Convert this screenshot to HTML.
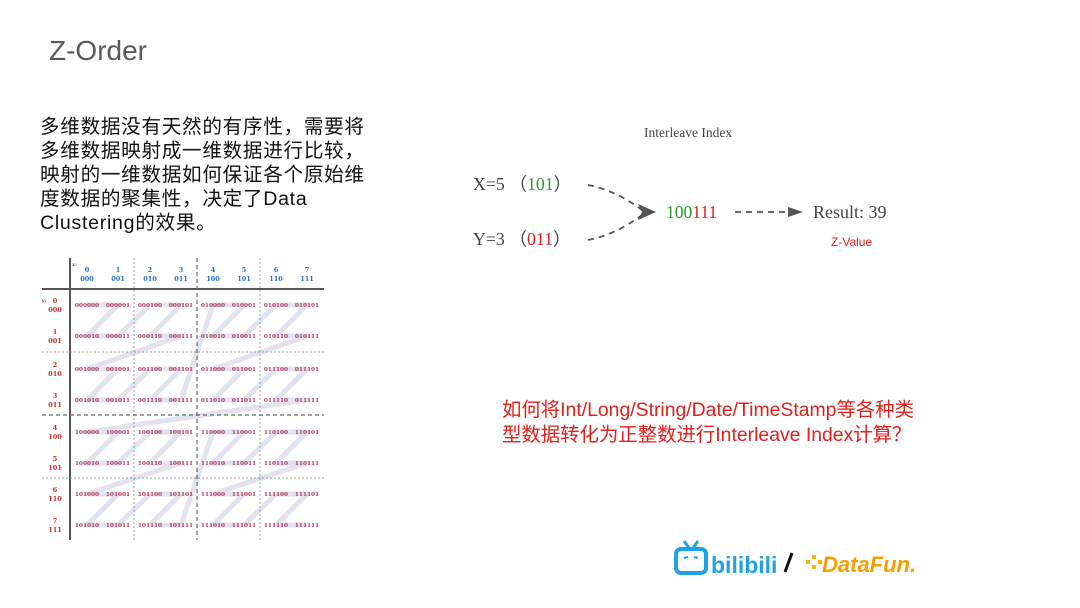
<!DOCTYPE html>
<html><head><meta charset="utf-8"><style>
body{margin:0;width:1080px;height:608px;background:#fff;position:relative;overflow:hidden;font-family:"Liberation Sans","Noto Sans CJK SC",sans-serif}
.a{position:absolute;white-space:nowrap}
</style></head><body>
<div class="a" style="left:49px;top:35px;font-size:28px;color:#595959">Z-Order</div>
<div class="a" style="left:40px;top:115px;font-size:19.6px;line-height:24px;color:#111;letter-spacing:0.7px">多维数据没有天然的有序性，需要将<br>多维数据映射成一维数据进行比较，<br>映射的一维数据如何保证各个原始维<br>度数据的聚集性，决定了Data<br>Clustering的效果。</div>
<div class="a" style="left:502px;top:398px;font-size:19.4px;line-height:25px;color:#e0201c">如何将Int/Long/String/Date/TimeStamp等各种类<br>型数据转化为正整数进行Interleave Index计算？</div>

<svg class="a" style="left:0;top:0" width="1080" height="608">
<g font-family="Liberation Serif,serif">
<text x="644" y="137" font-size="13.5" fill="#444">Interleave Index</text>
<text x="473" y="190" font-size="17.8" fill="#444">X=5 （<tspan fill="#2a9a2a">101</tspan>）</text>
<text x="473" y="245" font-size="17.8" fill="#444">Y=3 （<tspan fill="#e02020">011</tspan>）</text>
<text x="666" y="218" font-size="17.5" fill="#2a9a2a">100<tspan fill="#e02020">111</tspan></text>
<text x="813" y="218" font-size="18" fill="#444">Result: 39</text>
</g>
<text x="831" y="246" font-size="12" fill="#e02020">Z-Value</text>
<g stroke="#555" stroke-width="1.8" fill="none" stroke-dasharray="6,5">
<path d="M588 185 Q615 190 642 210"/>
<path d="M588 240 Q615 235 642 215"/>
<path d="M735 212 L790 212"/>
</g>
<path d="M638 204 L656 212 L638 220 L642 212Z" fill="#555"/>
<path d="M788 207 L803 212 L788 217Z" fill="#555"/>

<polyline fill="none" stroke="#e2e2f0" stroke-width="5" stroke-linejoin="round" points="87,305 118,305 87,336 118,336 150,305 181,305 150,336 181,336 87,369 118,369 87,400 118,400 150,369 181,369 150,400 181,400 213,305 244,305 213,336 244,336 276,305 307,305 276,336 307,336 213,369 244,369 213,400 244,400 276,369 307,369 276,400 307,400 87,432 118,432 87,463 118,463 150,432 181,432 150,463 181,463 87,494 118,494 87,525 118,525 150,494 181,494 150,525 181,525 213,432 244,432 213,463 244,463 276,432 307,432 276,463 307,463 213,494 244,494 213,525 244,525 276,494 307,494 276,525 307,525"/>
<g stroke="#555"><line x1="70" y1="258" x2="70" y2="540" stroke-width="2"/><line x1="42" y1="289" x2="324" y2="289" stroke-width="2"/></g>
<g stroke="#999" stroke-width="1" stroke-dasharray="2,2"><line x1="134" y1="258" x2="134" y2="540"/><line x1="260" y1="258" x2="260" y2="540"/><line x1="42" y1="352" x2="324" y2="352"/><line x1="42" y1="478" x2="324" y2="478"/></g>
<g stroke="#666" stroke-width="1.2" stroke-dasharray="4,3"><line x1="197" y1="258" x2="197" y2="540"/><line x1="42" y1="415" x2="324" y2="415"/></g>
<g font-family="DejaVu Serif,serif" font-weight="bold" font-size="6.5" text-anchor="middle" fill="#2a6fbf">
<text x="72" y="266" font-size="5" text-anchor="start">x:</text>
<text x="87" y="272">0</text><text x="87" y="281">000</text>
<text x="118" y="272">1</text><text x="118" y="281">001</text>
<text x="150" y="272">2</text><text x="150" y="281">010</text>
<text x="181" y="272">3</text><text x="181" y="281">011</text>
<text x="213" y="272">4</text><text x="213" y="281">100</text>
<text x="244" y="272">5</text><text x="244" y="281">101</text>
<text x="276" y="272">6</text><text x="276" y="281">110</text>
<text x="307" y="272">7</text><text x="307" y="281">111</text>
</g>
<g font-family="DejaVu Serif,serif" font-weight="bold" font-size="6.5" text-anchor="middle" fill="#c0302f">
<text x="44" y="302" font-size="5">y:</text>
<text x="55" y="303">0</text><text x="55" y="312">000</text>
<text x="55" y="334">1</text><text x="55" y="343">001</text>
<text x="55" y="367">2</text><text x="55" y="376">010</text>
<text x="55" y="398">3</text><text x="55" y="407">011</text>
<text x="55" y="430">4</text><text x="55" y="439">100</text>
<text x="55" y="461">5</text><text x="55" y="470">101</text>
<text x="55" y="492">6</text><text x="55" y="501">110</text>
<text x="55" y="523">7</text><text x="55" y="532">111</text>
</g>
<g font-family="DejaVu Serif,serif" font-weight="bold" font-size="5.8" text-anchor="middle" fill="#b03a5a">
<text y="307"><tspan x="87">000000</tspan><tspan x="118">000001</tspan><tspan x="150">000100</tspan><tspan x="181">000101</tspan><tspan x="213">010000</tspan><tspan x="244">010001</tspan><tspan x="276">010100</tspan><tspan x="307">010101</tspan></text>
<text y="338"><tspan x="87">000010</tspan><tspan x="118">000011</tspan><tspan x="150">000110</tspan><tspan x="181">000111</tspan><tspan x="213">010010</tspan><tspan x="244">010011</tspan><tspan x="276">010110</tspan><tspan x="307">010111</tspan></text>
<text y="371"><tspan x="87">001000</tspan><tspan x="118">001001</tspan><tspan x="150">001100</tspan><tspan x="181">001101</tspan><tspan x="213">011000</tspan><tspan x="244">011001</tspan><tspan x="276">011100</tspan><tspan x="307">011101</tspan></text>
<text y="402"><tspan x="87">001010</tspan><tspan x="118">001011</tspan><tspan x="150">001110</tspan><tspan x="181">001111</tspan><tspan x="213">011010</tspan><tspan x="244">011011</tspan><tspan x="276">011110</tspan><tspan x="307">011111</tspan></text>
<text y="434"><tspan x="87">100000</tspan><tspan x="118">100001</tspan><tspan x="150">100100</tspan><tspan x="181">100101</tspan><tspan x="213">110000</tspan><tspan x="244">110001</tspan><tspan x="276">110100</tspan><tspan x="307">110101</tspan></text>
<text y="465"><tspan x="87">100010</tspan><tspan x="118">100011</tspan><tspan x="150">100110</tspan><tspan x="181">100111</tspan><tspan x="213">110010</tspan><tspan x="244">110011</tspan><tspan x="276">110110</tspan><tspan x="307">110111</tspan></text>
<text y="496"><tspan x="87">101000</tspan><tspan x="118">101001</tspan><tspan x="150">101100</tspan><tspan x="181">101101</tspan><tspan x="213">111000</tspan><tspan x="244">111001</tspan><tspan x="276">111100</tspan><tspan x="307">111101</tspan></text>
<text y="527"><tspan x="87">101010</tspan><tspan x="118">101011</tspan><tspan x="150">101110</tspan><tspan x="181">101111</tspan><tspan x="213">111010</tspan><tspan x="244">111011</tspan><tspan x="276">111110</tspan><tspan x="307">111111</tspan></text>
</g>
<g>
<rect x="676" y="549" width="30" height="24" rx="5" fill="none" stroke="#1fa3e6" stroke-width="4"/>
<line x1="684" y1="541" x2="689" y2="548" stroke="#1fa3e6" stroke-width="3"/>
<line x1="698" y1="541" x2="693" y2="548" stroke="#1fa3e6" stroke-width="3"/>
<line x1="684" y1="558" x2="688" y2="557" stroke="#1fa3e6" stroke-width="2"/>
<line x1="694" y1="557" x2="698" y2="558" stroke="#1fa3e6" stroke-width="2"/>
<text x="711" y="573" font-size="23" font-weight="bold" fill="#1fa3e6" font-family="Liberation Sans,sans-serif">bilibili</text>
<line x1="785" y1="572" x2="792" y2="553" stroke="#111" stroke-width="3"/>
<g fill="#f5b400"><rect x="806" y="560" width="4" height="4"/><rect x="812" y="555" width="4" height="4"/><rect x="812" y="565" width="4" height="4"/><rect x="818" y="560" width="4" height="4"/></g>
<text x="822" y="572" font-size="22" font-weight="bold" font-style="italic" fill="#f5a000" font-family="Liberation Sans,sans-serif">DataFun.</text>
</g>
</svg>
</body></html>
